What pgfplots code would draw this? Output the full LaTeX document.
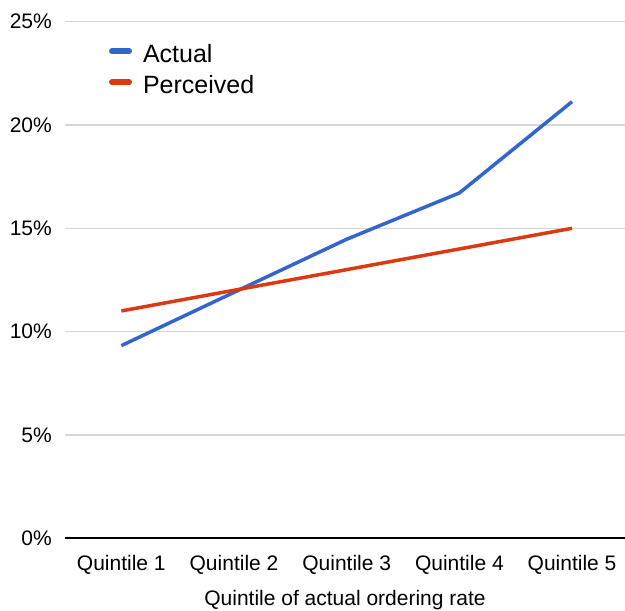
\documentclass[border=0pt]{standalone}
\usepackage{pgfplots}
\pgfplotsset{compat=1.18}
\usepackage{fontspec}
\setmainfont{Liberation Sans}
\definecolor{gblue}{HTML}{3366CC}
\definecolor{gred}{HTML}{DC3912}
\definecolor{ggrid}{HTML}{D6D6D6}

\begin{document}
\begin{tikzpicture}
\begin{axis}[
    at={(0,0)}, anchor=south west,
    scale only axis,
    width=560pt, height=516.5pt,
    xmin=-0.5, xmax=4.47,
    ymin=0, ymax=25,
    xtick={0,1,2,3,4},
    xticklabels={Quintile 1,Quintile 2,Quintile 3,Quintile 4,Quintile 5},
    ytick={0,5,10,15,20,25},
    yticklabel={\pgfmathprintnumber{\tick}\%},
    /pgf/number format/assume math mode=true,
    major tick length=0pt,
    separate axis lines,
    axis x line*=bottom,
    axis y line*=left,
    x axis line style={draw=black, line width=2pt, -},
    y axis line style={draw=none},
    ymajorgrids=true,
    grid style={draw=ggrid, line width=1.3pt},
    ticklabel style={font=\fontsize{21}{24}\selectfont, inner sep=0pt},
    yticklabel style={anchor=east, xshift=-13pt},
    xticklabel style={anchor=north, yshift=-17pt},
    xlabel={Quintile of actual ordering rate},
    xlabel style={font=\fontsize{21}{24}\selectfont, inner sep=0pt,
      at={(axis description cs:0.5,0)}, anchor=north, yshift=-52pt},
    legend style={at={(axis description cs:0.0786,0.955)}, anchor=north west,
      draw=none, fill=none, inner sep=0pt, outer sep=0pt,
      font=\fontsize{25}{29}\selectfont, row sep=13.5pt,
      nodes={inner sep=0pt, text height=17.5pt, text depth=0pt},
      /tikz/every odd column/.append style={column sep=11pt},
      legend cell align=left},
    legend image code/.code={\draw[line width=5.5pt, line cap=round] (2.75pt,2.5pt) -- (20.25pt,2.5pt);},
]
  \addplot[color=gblue, line width=3.5pt, line join=round] coordinates {(0,9.32)(1,11.9)(2,14.47)(3,16.71)(4,21.13)};
    \addlegendentry{Actual}
  \addplot[color=gred, line width=3.5pt, line join=round] coordinates {(0,11.0)(1,12.0)(2,13.0)(3,14.0)(4,15.0)};
    \addlegendentry{Perceived}
\end{axis}
\pgfresetboundingbox
\path[use as bounding box] (-65pt,-72.8pt) rectangle (560pt,538.2pt);
\end{tikzpicture}
\end{document}
